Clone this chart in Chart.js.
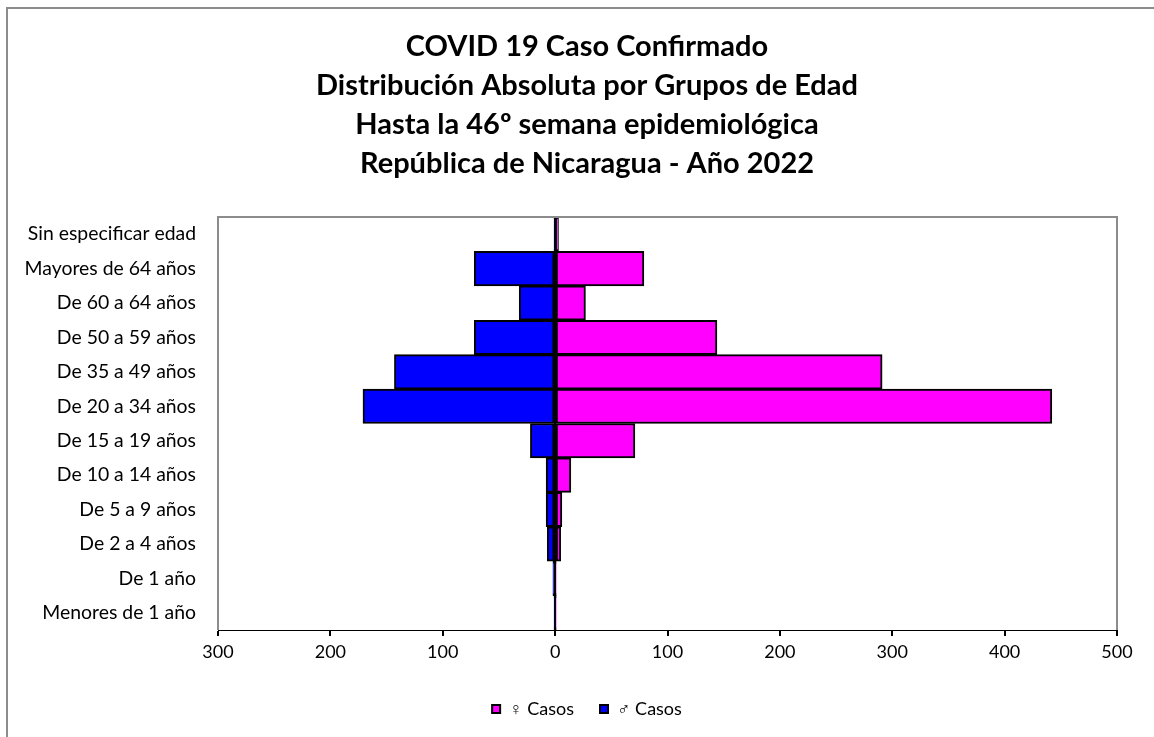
<!DOCTYPE html>
<html>
<head>
<meta charset="utf-8">
<script src="https://cdn.jsdelivr.net/npm/chart.js@4"></script>
<style>
    html, body { margin: 0; padding: 0; background: #fff; overflow: hidden; }
    #frame {
        position: absolute; left: 6px; top: 7px;
        width: 1160px; height: 740px;
        border-left: 2px solid #8c8c8c;
        border-top: 2px solid #8c8c8c;
    }
    #wrap { position: absolute; left: 0; top: 0; width: 1158px; height: 728px; }
</style>
</head>
<body>
<div id="frame">
    <div id="wrap"><canvas id="pyramid"></canvas></div>
</div>
<script>
// grupos de edad, de arriba hacia abajo
const categories = [
    'Sin especificar edad', 'Mayores de 64 años', 'De 60 a 64 años', 'De 50 a 59 años',
    'De 35 a 49 años', 'De 20 a 34 años', 'De 15 a 19 años', 'De 10 a 14 años',
    'De 5 a 9 años', 'De 2 a 4 años', 'De 1 año', 'Menores de 1 año'
];
const femaleCases = [3, 79, 27, 144, 291, 442, 71, 14, 6, 5, 1, 1];
const maleCases = [1, 72, 32, 72, 143, 171, 22, 8, 8, 7, 2, 1];
const xMin = -300;
const xMax = 500;
const xStep = 100;
const titleLines = [
    'COVID 19 Caso Confirmado',
    'Distribución Absoluta por Grupos de Edad',
    'Hasta la 46º semana epidemiológica',
    'República de Nicaragua - Año 2022'
];
const legendLabels = ['♀ Casos', '♂ Casos'];

const FONT = 'Lato, "Open Sans", sans-serif';

// borde gris del área de trazado
const plotBorder = {
    id: 'plotBorder',
    afterDraw(chart) {
        const {ctx, chartArea: a} = chart;
        ctx.save();
        ctx.strokeStyle = '#8c8c8c';
        ctx.lineWidth = 2;
        ctx.beginPath();
        ctx.moveTo(a.left, a.bottom);
        ctx.lineTo(a.left, a.top);
        ctx.lineTo(a.right, a.top);
        ctx.lineTo(a.right, a.bottom);
        ctx.stroke();
        ctx.restore();
    }
};

function createPyramid() {
    const ctx = document.getElementById('pyramid').getContext('2d');

    new Chart(ctx, {
        type: 'bar',
        data: {
            labels: categories,
            datasets: [{
                label: legendLabels[0],
                data: femaleCases,
                yAxisID: 'y',
                backgroundColor: '#ff00ff',
                borderColor: '#000',
                borderWidth: 2,
                borderSkipped: false
            }, {
                label: legendLabels[1],
                data: maleCases.map(v => -v), // hombres a la izquierda
                yAxisID: 'y',
                backgroundColor: '#0000ff',
                borderColor: '#000',
                borderWidth: 2,
                borderSkipped: false
            }]
        },
        options: {
            indexAxis: 'y',
            responsive: true,
            maintainAspectRatio: false,
            animation: false,
            barPercentage: 1,
            categoryPercentage: 1,
            layout: { padding: { left: 0, right: 0, top: 0, bottom: 9 } },
            scales: {
                y: {
                    stacked: true,
                    afterFit: s => { s.width = 210; },
                    grid: { display: false },
                    border: { display: false },
                    ticks: {
                        padding: 14,
                        color: '#000',
                        font: { family: FONT, size: 19.4 }
                    }
                },
                // eje vacío a la derecha, solo reserva el margen
                yRight: {
                    type: 'category',
                    position: 'right',
                    afterFit: s => { s.width = 49; },
                    grid: { display: false },
                    border: { display: false },
                    ticks: { display: false }
                },
                x: {
                    stacked: true,
                    min: xMin,
                    max: xMax,
                    afterFit: s => { s.height = 44; },
                    ticks: {
                        stepSize: xStep,
                        padding: 5,
                        color: '#000',
                        font: { family: FONT, size: 18 },
                        callback: v => Math.abs(v)
                    },
                    grid: {
                        drawOnChartArea: true,
                        drawTicks: true,
                        tickLength: 6,
                        tickColor: '#000',
                        color: c => c.tick && c.tick.value === 0 ? '#000' : 'rgba(0,0,0,0)',
                        lineWidth: 2
                    },
                    border: { display: true, color: '#000', width: 1 }
                }
            },
            plugins: {
                title: {
                    display: true,
                    text: titleLines,
                    color: '#000',
                    font: { family: FONT, size: 29, weight: 'bold', lineHeight: '39px' },
                    padding: { top: 18, bottom: 34 }
                },
                legend: {
                    position: 'bottom',
                    labels: {
                        color: '#000',
                        font: { family: FONT, size: 18 },
                        boxWidth: 8,
                        boxHeight: 8,
                        padding: 26
                    }
                },
                tooltip: { enabled: false }
            }
        },
        plugins: [plotBorder]
    });
}

createPyramid();
</script>
</body>
</html>
